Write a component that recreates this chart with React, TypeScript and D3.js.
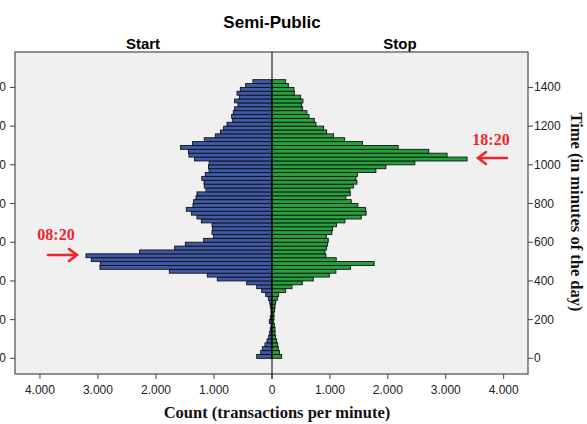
import React from "react";
import * as d3 from "d3";

// counts per 20-minute bin, bin i covers minutes [20i, 20i+20)
const startCounts = [
  264, 195, 167, 121, 86, 57, 40, 29, 17, 46, 29, 17, 17, 29, 40, 63, 109, 178,
  264, 437, 943, 1115, 1770, 2966, 2960, 3115, 3207, 2282, 1678, 1494, 1178,
  1006, 1034, 1023, 1034, 1218, 1293, 1391, 1477, 1362, 1351, 1310, 1293, 1138,
  1167, 1172, 1210, 1150, 1085, 1095, 1083, 1336, 1431, 1440, 1578, 1370, 1167,
  977, 888, 833, 776, 678, 695, 667, 644, 586, 644, 563, 603, 546, 454, 328,
];
const stopCounts = [
  167, 130, 109, 98, 80, 63, 52, 52, 40, 29, 34, 34, 46, 52, 63, 92, 115, 236,
  345, 523, 713, 989, 1103, 1356, 1764, 1109, 931, 914, 943, 960, 971, 937,
  1034, 1046, 1115, 1259, 1540, 1626, 1615, 1483, 1368, 1276, 1351, 1345, 1408,
  1466, 1448, 1477, 1793, 1966, 2466, 3368, 3023, 2707, 2178, 1563, 1253, 1063,
  943, 891, 759, 730, 638, 603, 529, 511, 534, 494, 385, 379, 282, 236,
];
const binWidth = 20;
const binMinutes = d3.range(0, 1440, binWidth);
const countTicks = [0, 1000, 2000, 3000, 4000];
const timeTicks = [0, 200, 400, 600, 800, 1000, 1200, 1400];

const W = 587;
const H = 424;
const plot = { left: 15, right: 528, top: 52, bottom: 374 };
const mid = 272;

const blue = "#3d59a8";
const green = "#25a23b";
const red = "#f0222b";
const sans = "Arial, 'Liberation Sans', sans-serif";
const serif = "'Times New Roman', 'Liberation Serif', serif";

const fmt = (v: number) => (v === 0 ? "0" : d3.format(",")(v).replace(/,/g, "."));

export default function App() {
  const y = d3.scaleLinear().domain([-81, 1583]).range([plot.bottom, plot.top]);
  const xL = d3.scaleLinear().domain([0, 4430]).range([mid, plot.left]);
  const xR = d3.scaleLinear().domain([0, 4420]).range([mid, plot.right]);

  return (
    <div style={{ position: "absolute", left: 0, top: 0 }}>
      <svg width={W} height={H} style={{ display: "block", background: "#fff" }}>
        <text x={mid} y={28} textAnchor="middle" fontFamily={sans} fontWeight="bold" fontSize={17}>
          Semi-Public
        </text>
        <text x={143} y={49} textAnchor="middle" fontFamily={sans} fontWeight="bold" fontSize={15}>
          Start
        </text>
        <text x={400} y={49} textAnchor="middle" fontFamily={sans} fontWeight="bold" fontSize={15}>
          Stop
        </text>

        <rect
          x={plot.left}
          y={plot.top}
          width={plot.right - plot.left}
          height={plot.bottom - plot.top}
          fill="#f0f0f0"
          stroke="#5a5a5a"
          strokeWidth={1.3}
        />

        {/* start bars */}
        <g fill={blue} stroke="#111" strokeWidth={0.9}>
          {binMinutes.map((m, i) => (
            <rect
              key={"s" + m}
              x={xL(startCounts[i])}
              y={y(m + binWidth)}
              width={xL(0) - xL(startCounts[i])}
              height={y(m) - y(m + binWidth)}
            />
          ))}
        </g>
        {/* stop bars */}
        <g fill={green} stroke="#111" strokeWidth={0.9}>
          {binMinutes.map((m, i) => (
            <rect
              key={"e" + m}
              x={xR(0)}
              y={y(m + binWidth)}
              width={xR(stopCounts[i]) - xR(0)}
              height={y(m) - y(m + binWidth)}
            />
          ))}
        </g>

        <line x1={mid} x2={mid} y1={plot.top} y2={plot.bottom + 5} stroke="#000" strokeWidth={1} />

        {/* x axis */}
        <g fontFamily={sans} fontSize={12} fill="#222">
          {countTicks.map((t) => (
            <g key={"l" + t}>
              <line x1={xL(t)} x2={xL(t)} y1={plot.bottom} y2={plot.bottom + 5} stroke="#444" />
              <text x={xL(t)} y={394} textAnchor="middle">{fmt(t)}</text>
            </g>
          ))}
          {countTicks.filter((t) => t > 0).map((t) => (
            <g key={"r" + t}>
              <line x1={xR(t)} x2={xR(t)} y1={plot.bottom} y2={plot.bottom + 5} stroke="#444" />
              <text x={xR(t)} y={394} textAnchor="middle">{fmt(t)}</text>
            </g>
          ))}
        </g>

        {/* y axes (left labels run off the page edge as in the source) */}
        <g fontFamily={sans} fontSize={12} fill="#222">
          {timeTicks.map((t) => (
            <g key={"y" + t}>
              <line x1={plot.left - 5} x2={plot.left} y1={y(t)} y2={y(t)} stroke="#444" />
              <text x={6} y={y(t) + 4} textAnchor="end">{t}</text>
              <line x1={plot.right} x2={plot.right + 5} y1={y(t)} y2={y(t)} stroke="#444" />
              <text x={plot.right + 6} y={y(t) + 4}>{t}</text>
            </g>
          ))}
        </g>

        <text x={277} y={418} textAnchor="middle" fontFamily={serif} fontWeight="bold" fontSize={16.5} fill="#111">
          Count (transactions per minute)
        </text>
        <text
          transform="translate(571, 212) rotate(90)"
          textAnchor="middle"
          fontFamily={serif}
          fontWeight="bold"
          fontSize={16.5}
          fill="#111"
        >
          Time (in minutes of the day)
        </text>

        {/* annotations */}
        <g fontFamily={serif} fontWeight="bold" fontSize={16} fill={red}>
          <text x={56} y={240} textAnchor="middle">08:20</text>
          <text x={491} y={145} textAnchor="middle">18:20</text>
        </g>
        <g stroke={red} strokeWidth={2.6} fill="none" strokeLinecap="round">
          <line x1={48} x2={76} y1={255} y2={255} />
          <polyline points="69,249 77,255 69,261" />
          <line x1={507} x2={479} y1={158} y2={158} />
          <polyline points="486,152 478,158 486,164" />
        </g>
      </svg>
    </div>
  );
}
